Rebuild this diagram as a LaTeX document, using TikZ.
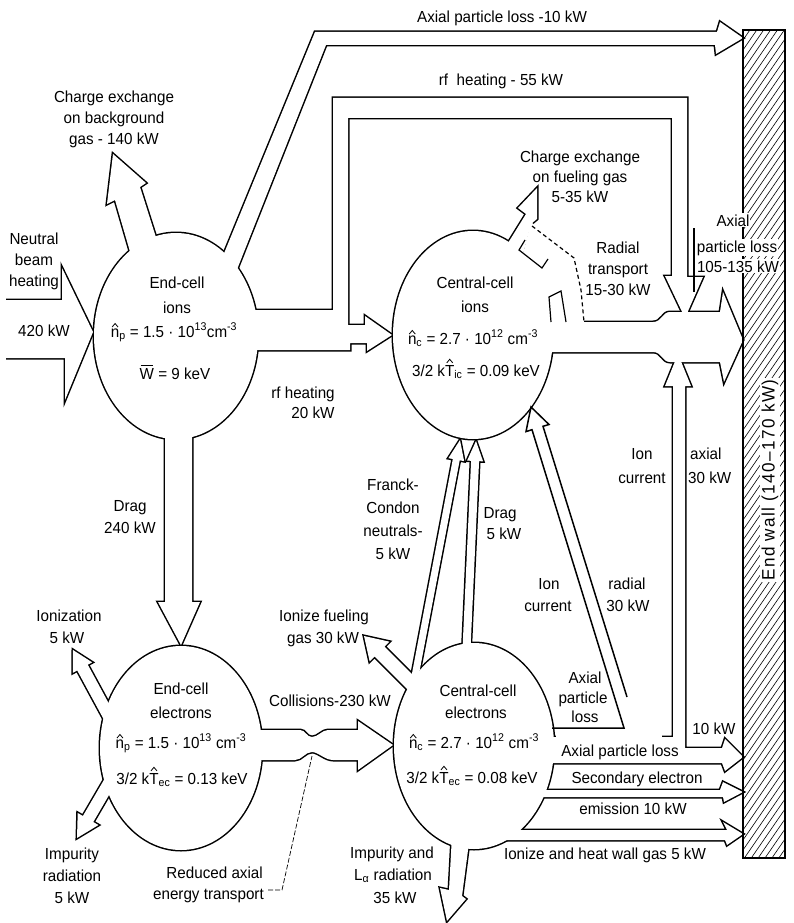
\documentclass[tikz,border=0pt]{standalone}
\usepackage{fontspec}
\setmainfont{Liberation Sans}[FakeStretch=0.95]
\usetikzlibrary{calc}
\newcommand\defarrow[6]{%
  \coordinate (#1-A) at (#2);
  \coordinate (#1-B) at (#3);
  \coordinate (#1-N) at ($(#1-B)!#6!(#1-A)$);
  \coordinate (#1-1) at ($(#1-A)!#4!90:(#1-B)$);
  \coordinate (#1-2) at ($(#1-N)!#4!90:(#1-B)$);
  \coordinate (#1-3) at ($(#1-N)!#5!90:(#1-B)$);
  \coordinate (#1-5) at ($(#1-N)!#5!-90:(#1-B)$);
  \coordinate (#1-6) at ($(#1-N)!#4!-90:(#1-B)$);
  \coordinate (#1-7) at ($(#1-A)!#4!-90:(#1-B)$);
}
\newcommand\arrowpath[1]{(#1-1) -- (#1-2) -- (#1-3) -- (#1-B) -- (#1-5) -- (#1-6) -- (#1-7) -- cycle}
\newcommand\hatx[2]{\ooalign{#1\cr\hidewidth\raisebox{#2}{\tikz[baseline=0pt]\draw[line width=0.8pt] (0pt,0pt) -- (3pt,3.6pt) -- (6pt,0pt);}\hidewidth\cr}}
\newcommand\barW{\ooalign{W\cr\hidewidth\raisebox{0.8em}{\rule{0.8em}{0.07em}}\hidewidth\cr}}
% shapes
\newcommand\shEI{(176,336) ellipse [x radius=82pt, y radius=103pt]}
\newcommand\shCI{(473,335) ellipse [x radius=80pt, y radius=104pt]}
\newcommand\shEE{(181,748) ellipse [x radius=81pt, y radius=102pt]}
\newcommand\shCE{(474,746) ellipse [x radius=80pt, y radius=103pt]}
\newcommand\shNB{(-5,300) -- (62,300) -- (62,268) -- (93,332) -- (65,400) -- (65,358) -- (-5,358) -- cycle}
\newcommand\shCXB{(133,262) -- (115,200) -- (107,204) -- (113,154) -- (146,183) -- (140,187) -- (160,250) -- cycle}
\newcommand\shAX{(218,268) -- (315,32) -- (717,32) -- (720,22) -- (743,38) -- (716,54) -- (715,45) -- (326,45) -- (236,272) -- cycle}
\newcommand\shRFL{(240,310) -- (333,310) -- (333,98) -- (687,98) -- (687,277) -- (703,277) -- (685,318) -- (665,276) -- (672,276) -- (672,118) -- (348,118) -- (348,330) -- (240,330) -- cycle}
\newcommand\shRFT{(240,325) -- (365,325) -- (365,316) -- (392,335) -- (367,351) -- (367,343) -- (350,343) -- (350,350) -- (240,350) -- cycle}
\newcommand\shDRG{(165,420) -- (165,602) -- (158,602) -- (181,645) -- (200,602) -- (192,602) -- (192,420) -- cycle}
\newcommand\shCOL{(245,730) -- (300,730) .. controls (306,730) and (306,737) .. (312,737) .. controls (318,737) and (322,730) .. (328,730) -- (358,730) -- (358,721) -- (393,745) -- (358,770) -- (358,760) -- (333,760) .. controls (325,760) and (318,752) .. (312,752) .. controls (305,752) and (302,760) .. (295,760) -- (245,760) -- cycle}
\newcommand\shCXF{(500,262) -- (508,243) -- (526,214) -- (518,208) -- (537,188) -- (537,219) -- (531,224) -- (522,258) -- cycle}
\newcommand\shEX{(540,322) -- (653,322) .. controls (662,322) and (662,312) .. (670,312) -- (720,312) -- (723,292) -- (743,340) -- (724,382) -- (720,362) -- (670,362) .. controls (662,362) and (662,352) .. (653,352) -- (540,352) -- cycle}
\newcommand\shVA{(535,737) -- (673,737) -- (673,386) -- (665,386) -- (678,354) -- (691,386) -- (685,386) -- (685,748) -- (722,748) -- (725,739) -- (743,757) -- (725,771) -- (722,763) -- (535,763) -- cycle}
\newcommand\shPB{(535,790) -- (720,790) -- (723,782) -- (743,792) -- (724,802) -- (723,797) -- (535,797) -- cycle}
\newcommand\shPC{(500,830) -- (727,830) -- (723,822) -- (743,834) -- (727,845) -- (725,840) -- (500,840) -- cycle}
\newcommand\shIL{(452,835) -- (449,890) -- (440,888) -- (447,921) -- (466,899) -- (462,896) -- (470,835) -- cycle}
\newcommand\shR{(531,222) -- (574,258) -- (581,290) -- (584,322) -- (548,328) -- (520,262) -- (524,250) -- cycle}
\begin{document}
\begin{tikzpicture}[x=1pt,y=-1pt,
  every node/.style={font=\fontsize{16}{21}\selectfont, align=center, inner sep=0pt},
  lb/.style={anchor=base},
  ul/.style={line width=3pt, line join=miter},
  ln/.style={line width=1.5pt, line join=miter},
  wl/.style={fill=white, inner sep=1pt, anchor=base}]
\useasboundingbox (0,0) rectangle (794,923);
\defarrow{ion}{112,722}{73,650}{6pt}{11pt}{20pt}
\defarrow{imp}{112,778}{77,838}{6pt}{12pt}{22pt}
\defarrow{ifg}{418,690}{364,636}{7pt}{14pt}{22pt}
\defarrow{fc}{412,692}{460,440}{3.5pt}{8pt}{20pt}
\defarrow{dr}{466,660}{476,441}{4pt}{8pt}{20pt}
% layer 1: strokes
\draw[ul] \shEI; \draw[ul] \shCI; \draw[ul] \shEE; \draw[ul] \shCE;
\draw[ul] \shNB; \draw[ul] \shCXB; \draw[ul] \shAX; \draw[ul] \shRFL;
\draw[ul] \shRFT; \draw[ul] \shDRG; \draw[ul] \shCOL; \draw[ul] \shCXF;
\draw[ul] \shEX; \draw[ul] \shVA; \draw[ul] \shPB; \draw[ul] \shPC; \draw[ul] \shIL;
\draw[ul] \arrowpath{ion}; \draw[ul] \arrowpath{imp}; \draw[ul] \arrowpath{ifg};
\draw[ul] \arrowpath{fc}; \draw[ul] \arrowpath{dr};
% layer 2: fills
\fill[white] \shEI; \fill[white] \shCI; \fill[white] \shEE; \fill[white] \shCE;
\fill[white] \shNB; \fill[white] \shCXB; \fill[white] \shAX; \fill[white] \shRFL;
\fill[white] \shRFT; \fill[white] \shDRG; \fill[white] \shCOL; \fill[white] \shCXF;
\fill[white] \shEX; \fill[white] \shVA; \fill[white] \shPB; \fill[white] \shPC; \fill[white] \shIL;
\fill[white] \arrowpath{ion}; \fill[white] \arrowpath{imp}; \fill[white] \arrowpath{ifg};
\fill[white] \arrowpath{fc}; \fill[white] \arrowpath{dr};
\fill[white] \shR;
% layer 3: erasers
\fill[white] (-10,290) rectangle (6,370);
\fill[white] (555.5,733) rectangle (662,740.5);
% layer 4: open lines
\draw[ln] (552,728) -- (624,728) -- (532,429.7) -- (526,431.6) -- (531,407) -- (549,424.5) -- (543,426.3) -- (627,697);
\draw[line width=1.2pt, dash pattern=on 4pt off 3pt] (532,226) -- (574,258) -- (581,290) -- (584,322);
\draw[line width=1.2pt] (525,240) -- (519,250) -- (542,268) -- (548,259);
\draw[line width=1.2pt] (551,322) -- (549,297) -- (561,291) -- (566,322);
\draw[line width=0.7pt, dash pattern=on 5pt off 2pt] (268,890) -- (282,890) -- (312,756);
\draw[line width=1.2pt] (694,228) -- (694,292);
% end wall
\begin{scope}
\clip (743,30) rectangle (785,858);
\foreach \k in {0,...,90} \draw[line width=0.6pt] (743,30+\k*10) -- ++(42,-61);
\end{scope}
\draw[line width=2.5pt] (743,30) rectangle (785,858);
\node[rotate=90, fill=white, inner sep=1.5pt, font=\fontsize{18}{21}\selectfont\addfontfeature{LetterSpace=8}] (tWall) at (770,480) {End wall (140–170 kW)};
\node[wl] (tAPL1) at (733,226) {Axial};
\node[wl] (tAPL2) at (737,252) {particle loss};
\node[wl] (tAPL3) at (738,272) {105-135 kW};
% texts
\node (tNB) at (34,261) {Neutral\\beam\\heating};
\node[lb] (t420) at (44,336) {420 kW};
\node (tCXB) at (114,119) {Charge exchange\\on background\\gas - 140 kW};
\node[lb] (tAX10) at (502,23) {Axial particle loss -10 kW};
\node[lb] (tRF55) at (501,86) {rf\ \ heating - 55 kW};
\node[font=\fontsize{16}{20}\selectfont] (tCXF) at (580,177) {Charge exchange\\on fueling gas\\5-35 kW};
\node (tRT) at (618,269) {Radial\\transport\\15-30 kW};
\node[lb] (tRF20a) at (303,398) {rf heating};
\node[lb] (tRF20b) at (313,418) {20 kW};
\node[lb] (tEI1) at (177,288) {End-cell};
\node[lb] (tEI2) at (177,313) {ions};
\node[lb] (tEI3) at (174,337) {\hatx{n}{0.62em}\textsubscript{p} = 1.5 · 10\textsuperscript{13}cm\textsuperscript{-3}};
\node[lb] (tEI4) at (175,379) {\barW\ = 9 keV};
\node[lb] (tCI1) at (475,288) {Central-cell};
\node[lb] (tCI2) at (475,312) {ions};
\node[lb] (tCI3) at (473,344) {\hatx{n}{0.62em}\textsubscript{c} = 2.7 · 10\textsuperscript{12} cm\textsuperscript{-3}};
\node[lb] (tCI4) at (476,376) {3/2 k\hatx{T}{0.82em}\textsubscript{ic} = 0.09 keV};
\node[lb] (tDr1) at (130,511) {Drag};
\node[lb] (tDr2) at (130,533) {240 kW};
\node[font=\fontsize{16}{23}\selectfont] (tFC) at (393,519) {Franck-\\Condon\\neutrals-\\5 kW};
\node[lb] (tDg1) at (500,518) {Drag};
\node[lb] (tDg2) at (504,539) {5 kW};
\node[lb] (tIC1) at (549,589) {Ion};
\node[lb] (tIC2) at (548,611) {current};
\node[lb] (tRd1) at (627,589) {radial};
\node[lb] (tRd2) at (628,611) {30 kW};
\node[lb] (tIV1) at (642,459) {Ion};
\node[lb] (tIV2) at (642,483) {current};
\node[lb, anchor=base west] (tAx1) at (690,459) {axial};
\node[lb, anchor=base west] (tAx2) at (688,483) {30 kW};
\node[lb] (tIon1) at (69,621) {Ionization};
\node[lb] (tIon2) at (67,643) {5 kW};
\node[lb] (tIfg1) at (324,621) {Ionize fueling};
\node[lb] (tIfg2) at (323,643) {gas 30 kW};
\node[lb] (tEE1) at (181,694) {End-cell};
\node[lb] (tEE2) at (181,718) {electrons};
\node[lb] (tEE3) at (181,748) {\hatx{n}{0.62em}\textsubscript{p} = 1.5 · 10\textsuperscript{13} cm\textsuperscript{-3}};
\node[lb] (tEE4) at (182,784) {3/2 k\hatx{T}{0.82em}\textsubscript{ec} = 0.13 keV};
\node[lb] (tCol) at (330,706) {Collisions-230 kW};
\node[lb] (tCE1) at (478,696) {Central-cell};
\node[lb] (tCE2) at (476,718) {electrons};
\node[lb] (tCE3) at (474,748) {\hatx{n}{0.62em}\textsubscript{c} = 2.7 · 10\textsuperscript{12} cm\textsuperscript{-3}};
\node[lb] (tCE4) at (472,783) {3/2 k\hatx{T}{0.82em}\textsubscript{ec} = 0.08 keV};
\node[lb] (tAP1) at (585,683) {Axial};
\node[lb] (tAP2) at (583,703) {particle};
\node[lb] (tAP3) at (585,722) {loss};
\node[lb] (t10) at (714,734) {10 kW};
\node[lb] (tAPb) at (620,756) {Axial particle loss};
\node[lb] (tSec) at (637,783) {Secondary electron};
\node[lb] (tEm) at (633,814) {emission 10 kW};
\node[lb] (tIhw) at (605,859) {Ionize and heat wall gas 5 kW};
\node[lb] (tImp1) at (72,859) {Impurity};
\node[lb] (tImp2) at (72,881) {radiation};
\node[lb] (tImp3) at (72,903) {5 kW};
\node[lb] (tIL1) at (392,858) {Impurity and};
\node[lb] (tIL2) at (393,880) {L\textsubscript{α} radiation};
\node[lb] (tIL3) at (395,903) {35 kW};
\node[anchor=base east] (tRed1) at (263,878) {Reduced axial};
\node[anchor=base east] (tRed2) at (264,899) {energy transport};
\end{tikzpicture}
\end{document}
